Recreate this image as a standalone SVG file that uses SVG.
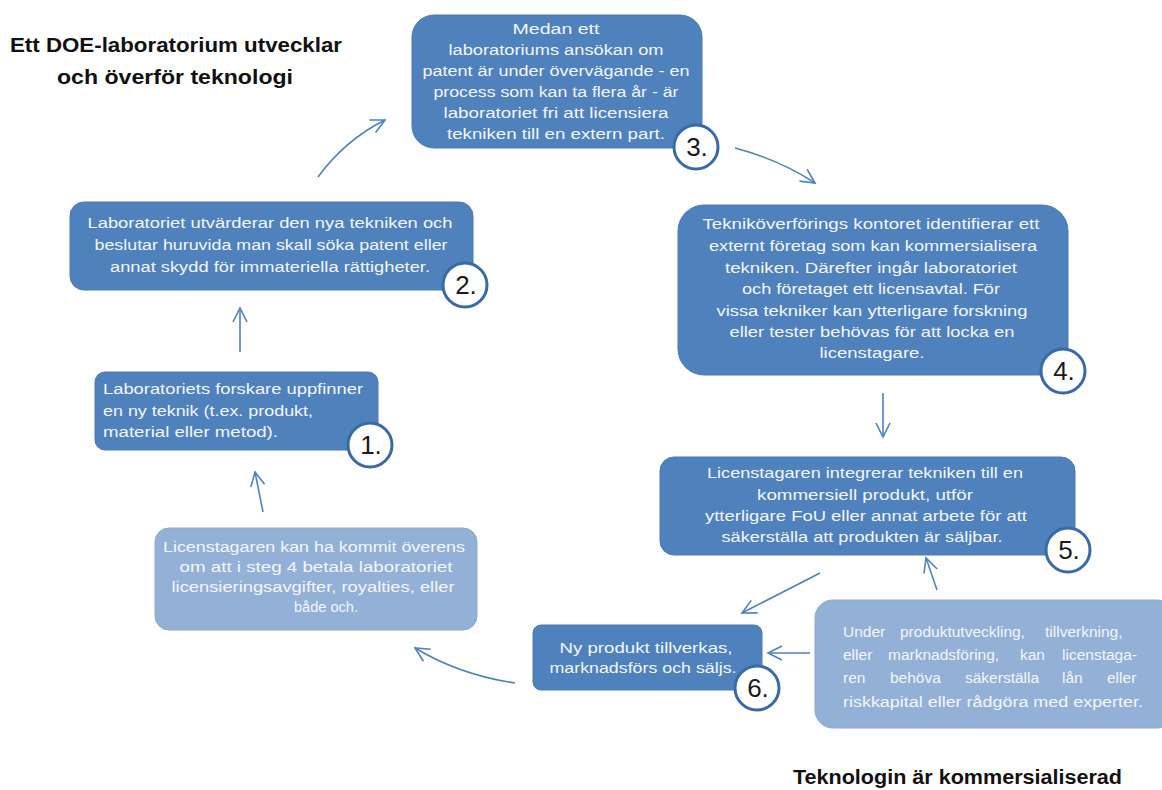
<svg xmlns="http://www.w3.org/2000/svg" width="1162" height="790" viewBox="0 0 1162 790">
<style>
.box{fill:#4f81bd;stroke:#4a7ab5;stroke-width:1}
.lbox{fill:#93b1d6;stroke:#8aa9cf;stroke-width:1}
.t{font-family:"Liberation Sans",Arial,sans-serif;font-size:15.5px;fill:#f4f6fa}
.c{text-anchor:middle}
.num{fill:#ffffff;stroke:#3a6aa6;stroke-width:3}
.nt{font-family:"Liberation Sans",Arial,sans-serif;font-size:26px;fill:#1a1a1a;text-anchor:middle}
.title{font-family:"Liberation Sans",Arial,sans-serif;font-size:19.5px;font-weight:bold;fill:#111}
.arr{fill:none;stroke:#4f81bd;stroke-width:1.6;marker-end:url(#ah)}
</style>
<defs>
<marker id="ah" markerUnits="userSpaceOnUse" markerWidth="20" markerHeight="20" refX="15" refY="8" orient="auto" viewBox="0 0 20 16">
<path d="M1,1 L15,8 L1,15" fill="none" stroke="#4f81bd" stroke-width="1.6"/>
</marker>
</defs>
<rect width="1162" height="790" fill="#ffffff"/>

<g id="title-top">
<text class="title" x="10" y="52" textLength="332" lengthAdjust="spacingAndGlyphs">Ett DOE-laboratorium utvecklar</text>
<text class="title" x="57" y="84" textLength="236" lengthAdjust="spacingAndGlyphs">och överför teknologi</text>
</g>

<g id="connectors">
<path class="arr" d="M318,177 Q345,140 385,120"/>
<path class="arr" d="M735,148 Q780,160 815,183"/>
<path class="arr" d="M883,393 L883,437"/>
<path class="arr" d="M820,573 L742,613"/>
<path class="arr" d="M937,590 L926,558"/>
<path class="arr" d="M810,653 L768,653"/>
<path class="arr" d="M515,683 Q460,675 415,648"/>
<path class="arr" d="M263,512 L255,472"/>
<path class="arr" d="M240,352 L240,308"/>
</g>

<g id="node3">
<rect class="box" x="412" y="15" width="290" height="133" rx="22"/>
<text class="t c" x="556" y="34" textLength="87" lengthAdjust="spacingAndGlyphs">Medan ett</text>
<text class="t c" x="556" y="55" textLength="215" lengthAdjust="spacingAndGlyphs">laboratoriums ansökan om</text>
<text class="t c" x="556" y="76" textLength="267" lengthAdjust="spacingAndGlyphs">patent är under övervägande - en</text>
<text class="t c" x="556" y="97" textLength="245" lengthAdjust="spacingAndGlyphs">process som kan ta flera år - är</text>
<text class="t c" x="556" y="118" textLength="225" lengthAdjust="spacingAndGlyphs">laboratoriet fri att licensiera</text>
<text class="t c" x="556" y="139" textLength="218" lengthAdjust="spacingAndGlyphs">tekniken till en extern part.</text>
<circle class="num" cx="696" cy="147" r="22"/>
<text class="nt" x="697" y="156">3.</text>
</g>

<g id="node2">
<rect class="box" x="70" y="202" width="403" height="88" rx="14"/>
<text class="t c" x="270" y="228" textLength="365" lengthAdjust="spacingAndGlyphs">Laboratoriet utvärderar den nya tekniken och</text>
<text class="t c" x="271" y="250" textLength="353" lengthAdjust="spacingAndGlyphs">beslutar huruvida man skall söka patent eller</text>
<text class="t c" x="270" y="272" textLength="320" lengthAdjust="spacingAndGlyphs">annat skydd för immateriella rättigheter.</text>
<circle class="num" cx="465" cy="285" r="22"/>
<text class="nt" x="466" y="294">2.</text>
</g>

<g id="node4">
<rect class="box" x="678" y="205" width="390" height="170" rx="26"/>
<text class="t c" x="871" y="229" textLength="337" lengthAdjust="spacingAndGlyphs">Tekniköverförings kontoret identifierar ett</text>
<text class="t c" x="873" y="251" textLength="328" lengthAdjust="spacingAndGlyphs">externt företag som kan kommersialisera</text>
<text class="t c" x="871" y="273" textLength="292" lengthAdjust="spacingAndGlyphs">tekniken. Därefter ingår laboratoriet</text>
<text class="t c" x="871" y="294" textLength="258" lengthAdjust="spacingAndGlyphs">och företaget ett licensavtal. För</text>
<text class="t c" x="872" y="316" textLength="311" lengthAdjust="spacingAndGlyphs">vissa tekniker kan  ytterligare forskning</text>
<text class="t c" x="872" y="337" textLength="285" lengthAdjust="spacingAndGlyphs">eller tester behövas för att locka en</text>
<text class="t c" x="872" y="358" textLength="105" lengthAdjust="spacingAndGlyphs">licenstagare.</text>
<circle class="num" cx="1063" cy="371" r="22"/>
<text class="nt" x="1064" y="380">4.</text>
</g>

<g id="node1">
<rect class="box" x="95" y="372" width="283" height="78" rx="10"/>
<text class="t" x="103" y="394" textLength="260" lengthAdjust="spacingAndGlyphs">Laboratoriets forskare uppfinner</text>
<text class="t" x="103" y="416" textLength="210" lengthAdjust="spacingAndGlyphs">en ny teknik (t.ex. produkt,</text>
<text class="t" x="103" y="437" textLength="175" lengthAdjust="spacingAndGlyphs">material eller metod).</text>
<circle class="num" cx="370" cy="445" r="22"/>
<text class="nt" x="371" y="454">1.</text>
</g>

<g id="node5">
<rect class="box" x="660" y="457" width="415" height="98" rx="14"/>
<text class="t c" x="865" y="478" textLength="316" lengthAdjust="spacingAndGlyphs">Licenstagaren integrerar tekniken till en</text>
<text class="t c" x="865" y="500" textLength="216" lengthAdjust="spacingAndGlyphs">kommersiell produkt, utför</text>
<text class="t c" x="866" y="521" textLength="322" lengthAdjust="spacingAndGlyphs">ytterligare FoU eller annat arbete för att</text>
<text class="t c" x="862" y="542" textLength="281" lengthAdjust="spacingAndGlyphs">säkerställa att produkten är säljbar.</text>
<circle class="num" cx="1068" cy="550" r="22"/>
<text class="nt" x="1069" y="559">5.</text>
</g>

<g id="node-fee">
<rect class="lbox" x="155" y="528" width="322" height="102" rx="14"/>
<text class="t c" x="314" y="552" textLength="302" lengthAdjust="spacingAndGlyphs">Licenstagaren kan ha kommit överens</text>
<text class="t c" x="316" y="572" textLength="273" lengthAdjust="spacingAndGlyphs">om att i steg 4 betala laboratoriet</text>
<text class="t c" x="313" y="592" textLength="283" lengthAdjust="spacingAndGlyphs">licensieringsavgifter, royalties, eller</text>
<text class="t c" x="326" y="612" textLength="64" lengthAdjust="spacingAndGlyphs">både och.</text>
</g>

<g id="node6">
<rect class="box" x="533" y="625" width="229" height="65" rx="8"/>
<text class="t c" x="646" y="653" textLength="173" lengthAdjust="spacingAndGlyphs">Ny produkt tillverkas,</text>
<text class="t c" x="643" y="673" textLength="187" lengthAdjust="spacingAndGlyphs">marknadsförs och säljs.</text>
<circle class="num" cx="757" cy="688" r="22"/>
<text class="nt" x="758" y="697">6.</text>
</g>

<g id="node-finance">
<rect class="lbox" x="815" y="600" width="360" height="128" rx="18"/>
<text class="t" y="637"><tspan x="843">Under</tspan><tspan x="900">produktutveckling,</tspan><tspan x="1045">tillverkning,</tspan></text>
<text class="t" y="660"><tspan x="843">eller</tspan><tspan x="888">marknadsföring,</tspan><tspan x="1020">kan</tspan><tspan x="1062">licenstaga-</tspan></text>
<text class="t" y="683"><tspan x="843">ren</tspan><tspan x="890">behöva</tspan><tspan x="965">säkerställa</tspan><tspan x="1062">lån</tspan><tspan x="1107">eller</tspan></text>
<text class="t" x="843" y="707" textLength="300" lengthAdjust="spacingAndGlyphs">riskkapital eller rådgöra med experter.</text>
</g>

<g id="title-bottom">
<text class="title" x="793" y="784" textLength="329" lengthAdjust="spacingAndGlyphs">Teknologin är kommersialiserad</text>
</g>
</svg>
